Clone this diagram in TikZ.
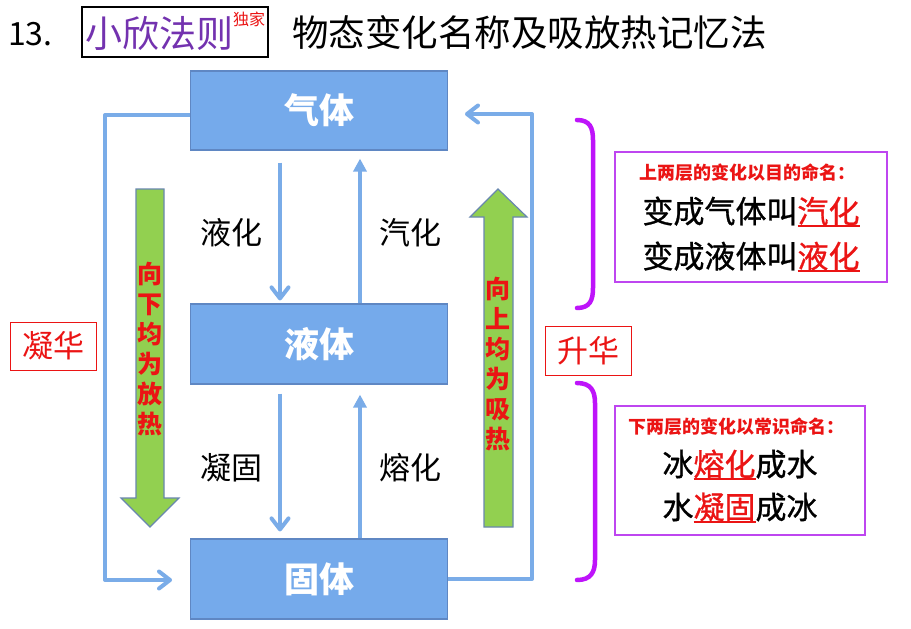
\documentclass[tikz,border=0pt]{standalone}
\usepackage{fontspec}
\setmainfont{Noto Sans CJK SC}
\newfontfamily\heavy[FakeBold=0.9]{Noto Sans CJK SC}
\usetikzlibrary{arrows.meta}
\definecolor{boxblue}{RGB}{117,170,235}
\definecolor{boxedge}{RGB}{95,135,195}
\definecolor{arrblue}{RGB}{122,172,232}
\definecolor{leaf}{RGB}{146,208,80}
\definecolor{leafedge}{RGB}{105,135,175}
\definecolor{bracecol}{RGB}{190,20,250}
\definecolor{panelcol}{RGB}{190,70,240}
\definecolor{titlepurple}{RGB}{115,50,175}
\definecolor{redtext}{RGB}{235,20,20}
\newcommand{\redul}[2]{\textcolor{redtext}{\rlap{\rule[-4.5pt]{#1}{2pt}}#2}}
\begin{document}
\begin{tikzpicture}[x=1pt,y=-1pt,
  statebox/.style={draw=boxedge, line width=1.2pt, fill=boxblue, minimum width=257pt, minimum height=79pt, inner sep=0pt, text=white, font=\fontsize{35}{35}\selectfont\bfseries},
  flow/.style={draw=arrblue, line width=4pt, line join=round, -{Straight Barb[length=11pt,width=17pt,round]}},
  upflow/.style={draw=arrblue, line width=4pt, -{Triangle[length=13pt,width=13pt]}},
  greenarrow/.style={fill=leaf, draw=leafedge, line width=1.2pt},
  greentext/.style={text=redtext, align=center, inner sep=0pt, font=\fontsize{25}{30}\selectfont\bfseries},
  changelabel/.style={inner sep=0pt, font=\fontsize{31}{31}\selectfont},
  redbox/.style={draw=redtext, line width=1pt, text=redtext, minimum width=86pt, minimum height=48pt, inner sep=0pt, font=\fontsize{31}{31}\selectfont},
  bracket/.style={draw=bracecol, line width=4.5pt, line cap=round},
  panel/.style={draw=panelcol, line width=1.3pt, inner sep=0pt},
  paneltitle/.style={text=redtext, inner sep=0pt, font=\fontsize{18}{18}\selectfont\bfseries},
  panelline/.style={inner sep=0pt, font=\fontsize{31}{31}\selectfont\heavy}
]
\useasboundingbox (0,0) rectangle (911,629);
\fill[white] (0,0) rectangle (911,629);

% title
\node[anchor=west, inner sep=0pt, font=\fontsize{32}{32}\selectfont] (num) at (8,34) {13.};
\node[draw=black, line width=1.5pt, minimum width=186pt, minimum height=50pt, inner sep=0pt] (rule) at (175,32) {};
\node[anchor=west, inner sep=0pt, text=titlepurple, font=\fontsize{37}{37}\selectfont] (rulename) at (85,33) {小欣法则};
\node[inner sep=0pt, text=redtext, font=\fontsize{16}{16}\selectfont] (excl) at (249,19) {独家};
\node[anchor=west, inner sep=0pt, font=\fontsize{36.5}{36.5}\selectfont] (title) at (292,33) {物态变化名称及吸放热记忆法};

% states
\node[statebox] (gas) at (319,110.5) {气体};
\node[statebox, minimum height=80pt] (liq) at (319,344) {液体};
\node[statebox, minimum height=80pt] (sol) at (319,579) {固体};

% vertical transitions
\draw[flow] ([xshift=-39pt,yshift=-12pt]gas.south) -- ([xshift=-39pt,yshift=3pt]liq.north);
\draw[upflow] ([xshift=41pt]liq.north) -- ([xshift=41pt,yshift=-8pt]gas.south);
\draw[flow] ([xshift=-39pt,yshift=-9pt]liq.south) -- ([xshift=-39pt,yshift=7pt]sol.north);
\draw[upflow] ([xshift=41pt]sol.north) -- ([xshift=41pt,yshift=-10pt]liq.south);

\node[changelabel] (l1) at (231,233) {液化};
\node[changelabel] (l2) at (410,233) {汽化};
\node[changelabel] (l3) at (231,468) {凝固};
\node[changelabel] (l4) at (410,468) {熔化};

% outer loops
\coordinate (lt) at (105,115);
\coordinate (lb) at (105,580);
\coordinate (ltip) at (172,580);
\draw[flow] (gas.west |- lt) -- (lt) -- (lb) -- (ltip);
\coordinate (rb) at (532,579);
\coordinate (rt) at (532,114);
\coordinate (rtip) at (465,114);
\draw[flow] (sol.east |- rb) -- (rb) -- (rt) -- (rtip);

% green arrows
\draw[greenarrow] (136,189) -- (164,189) -- (164,498) -- (179,498) -- (150,527) -- (121,498) -- (136,498) -- cycle;
\draw[greenarrow] (484,527) -- (513,527) -- (513,217) -- (527,217) -- (498,189) -- (470,217) -- (484,217) -- cycle;
\node[greentext] (down) at (150,349) {向\\下\\均\\为\\放\\热};
\node[greentext] (up) at (498,364) {向\\上\\均\\为\\吸\\热};

% sublimation / deposition
\node[redbox] (dep) at (53.5,346) {凝华};
\node[redbox, minimum height=49pt] (sub) at (588,350.5) {升华};

% braces
\draw[bracket] (577,120) .. controls (590,120) and (593,128) .. (593,140) -- (593,288) .. controls (593,300) and (590,308) .. (577,308);
\draw[bracket] (577,383) .. controls (591,383) and (595,391) .. (595,403) -- (595,560) .. controls (595,572) and (591,580) .. (577,580);

% panels
\node[panel, minimum width=272pt, minimum height=130pt] (p1) at (751,217) {};
\node[paneltitle] (p1t) at (747,173) {上两层的变化以目的命名：};
\node[panelline] (p1a) at (751,212) {变成气体叫\redul{62pt}{汽化}};
\node[panelline] (p1b) at (751,257) {变成液体叫\redul{62pt}{液化}};

\node[panel, minimum width=250pt, minimum height=129pt] (p2) at (740,470.5) {};
\node[paneltitle] (p2t) at (736,427) {下两层的变化以常识命名：};
\node[panelline] (p2a) at (740,465) {冰\redul{62pt}{熔化}成水};
\node[panelline] (p2b) at (740,508) {水\redul{62pt}{凝固}成冰};
\end{tikzpicture}
\end{document}
